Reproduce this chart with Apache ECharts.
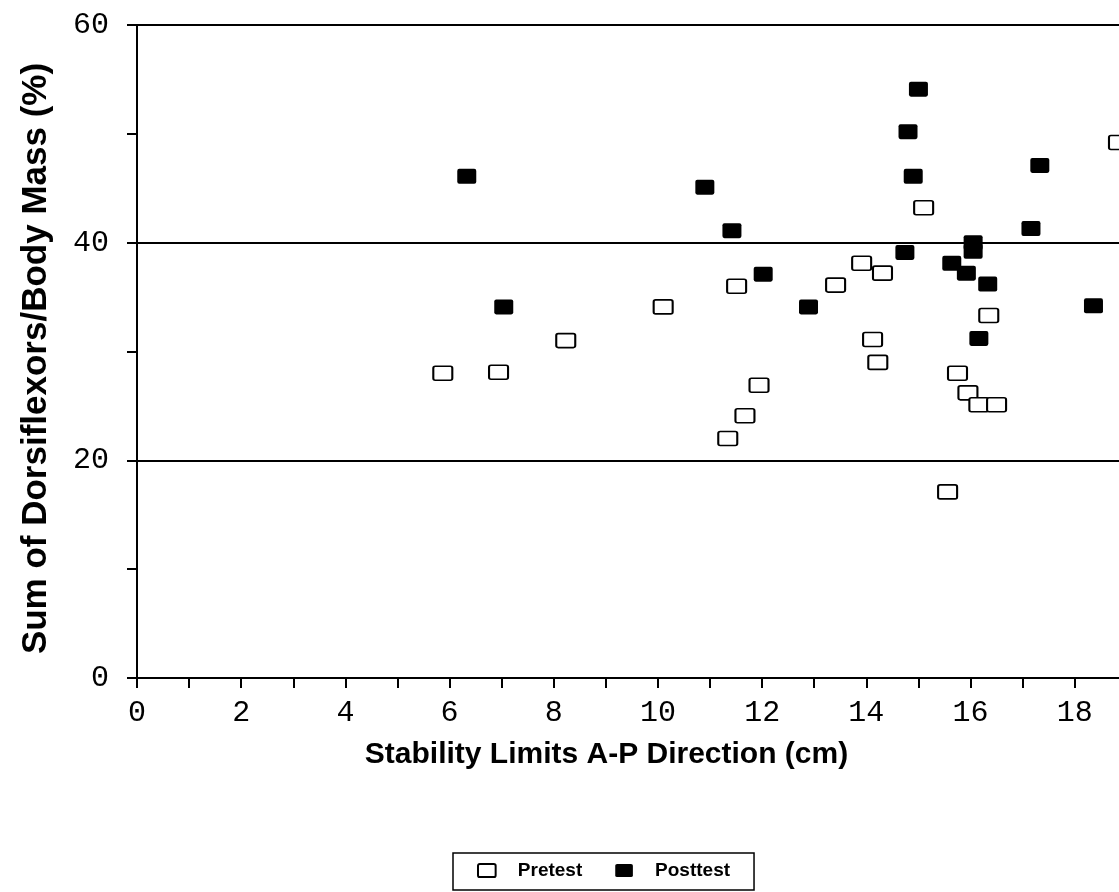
<!DOCTYPE html>
<html>
<head>
<meta charset="UTF-8" />
<title>Dorsiflexors vs Stability Limits</title>
<script src="https://cdn.jsdelivr.net/npm/echarts@6/dist/echarts.min.js"></script>
<style>
html, body { margin: 0; padding: 0; background: #fff; }
</style>
</head>
<body>
<div id="chart" style="width: 1119px; height: 892px;"></div>
<script>
// Pretest (open squares)
var preX = [5.87, 6.94, 8.23, 10.1, 11.34, 11.51, 11.67, 11.94, 13.41, 13.91, 14.12,
  14.22, 14.31, 15.1, 15.56, 15.75, 15.95, 16.16, 16.5, 16.35, 18.84];
var preY = [28.0, 28.1, 31.0, 34.1, 22.0, 36.0, 24.1, 26.9, 36.1, 38.1, 31.1,
  29.0, 37.2, 43.2, 17.1, 28.0, 26.2, 25.1, 25.1, 33.3, 49.2];

// Posttest (filled squares)
var postX = [6.33, 7.04, 10.9, 11.42, 12.02, 12.89, 14.74, 14.8, 14.9, 15.0,
  15.64, 15.92, 16.05, 16.05, 16.16, 16.33, 17.16, 17.33, 18.36];
var postY = [46.1, 34.1, 45.1, 41.1, 37.1, 34.1, 39.1, 50.2, 46.1, 54.1,
  38.1, 37.2, 40.0, 39.2, 31.2, 36.2, 41.3, 47.1, 34.2];

function pairs(xs, ys) {
  return xs.map(function (x, i) { return [x, ys[i]]; });
}

// slightly rounded box used for both marker types
var box = "path://M2,0 H17 Q19,0 19,2 V12 Q19,14 17,14 H2 Q0,14 0,12 V2 Q0,0 2,0 Z";

var myChart = echarts.init(document.getElementById("chart"));

var monoLabel = { fontFamily: "Liberation Mono", fontSize: 30, color: "#000" };

var option = {
  backgroundColor: "#fff",
  animation: false,
  grid: { left: 137, top: 25, right: 0, bottom: 214, containLabel: false },
  legend: {
    left: 453,
    top: 853,
    orient: "horizontal",
    borderColor: "#000",
    borderWidth: 1.5,
    padding: [8, 24, 10, 24],
    itemWidth: 18,
    itemHeight: 13,
    itemGap: 33,
    textStyle: {
      fontFamily: "Liberation Sans",
      fontWeight: "bold",
      fontSize: 19,
      color: "#000",
      padding: [0, 0, 0, 17]
    },
    data: [
      { name: "Pretest", icon: box },
      { name: "Posttest", icon: box }
    ]
  },
  xAxis: {
    type: "value",
    min: 0,
    max: 18.85,
    interval: 1,
    name: "Stability Limits A-P Direction (cm)",
    nameLocation: "middle",
    nameGap: 62,
    nameTextStyle: {
      fontFamily: "Liberation Sans",
      fontWeight: "bold",
      fontSize: 30,
      color: "#000",
      padding: [0, 43, 0, 0]
    },
    axisLine: { lineStyle: { color: "#000", width: 2 } },
    axisTick: { length: 10, lineStyle: { color: "#000", width: 2 } },
    axisLabel: Object.assign({
      margin: 20,
      showMaxLabel: false,
      formatter: function (v) { return v % 2 === 0 ? String(v) : ""; }
    }, monoLabel),
    splitLine: { show: false }
  },
  yAxis: {
    type: "value",
    min: 0,
    max: 60,
    interval: 20,
    name: "Sum of Dorsiflexors/Body Mass (%)",
    nameLocation: "middle",
    nameGap: 83,
    nameTextStyle: {
      fontFamily: "Liberation Sans",
      fontWeight: "bold",
      fontSize: 35,
      color: "#000",
      padding: [0, 14, 0, 0]
    },
    axisLine: { show: true, lineStyle: { color: "#000", width: 2 } },
    axisTick: { show: true, length: 10, lineStyle: { color: "#000", width: 2 } },
    minorTick: { show: true, splitNumber: 2, length: 10, lineStyle: { color: "#000", width: 2 } },
    axisLabel: Object.assign({ margin: 28 }, monoLabel),
    splitLine: { show: true, lineStyle: { color: "#000", width: 2 } }
  },
  series: [
    {
      name: "Pretest",
      type: "scatter",
      symbol: box,
      symbolSize: [19, 14],
      itemStyle: { color: "#fff", borderColor: "#000", borderWidth: 1.8, opacity: 1 },
      data: pairs(preX, preY),
      z: 3
    },
    {
      name: "Posttest",
      type: "scatter",
      symbol: box,
      symbolSize: [19, 15],
      itemStyle: { color: "#000", borderColor: "#000", borderWidth: 0, opacity: 1 },
      data: pairs(postX, postY),
      z: 4
    }
  ]
};

myChart.setOption(option);
</script>
</body>
</html>
